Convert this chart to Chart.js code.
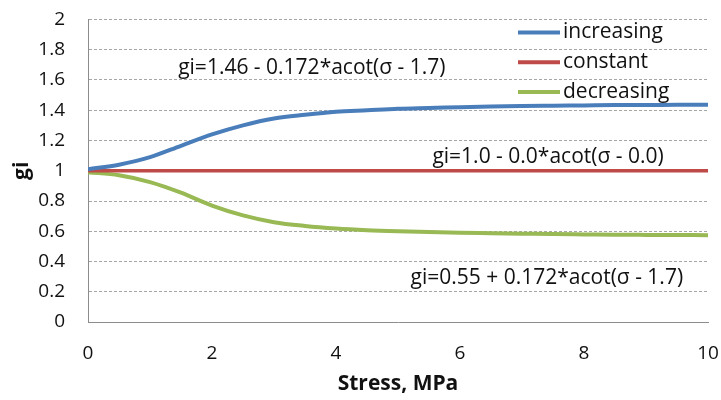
<!DOCTYPE html>
<html>
<head>
<meta charset="utf-8">
<script src="https://cdn.jsdelivr.net/npm/chart.js@4/dist/chart.umd.min.js"></script>
<style>
  html, body { margin: 0; padding: 0; background: #fff; }
  #wrap { width: 721px; height: 400px; }
</style>
</head>
<body>
<div id="wrap"><canvas id="c" width="721" height="400"></canvas></div>
<script>
// Stress values (MPa) at which gi was sampled
const stress = [0, 0.5, 1, 1.5, 2, 2.5, 3, 3.5, 4, 4.5, 5, 5.5, 6, 6.5, 7, 7.5, 8, 8.5, 9, 9.5, 10];

// gi for the three cases
const increasing = [1.01, 1.04, 1.09, 1.165, 1.24, 1.30, 1.345, 1.37, 1.39, 1.40, 1.41, 1.415, 1.42, 1.425, 1.428, 1.43, 1.432, 1.434, 1.435, 1.436, 1.437];
const constant   = [1, 1, 1, 1, 1, 1, 1, 1, 1, 1, 1, 1, 1, 1, 1, 1, 1, 1, 1, 1, 1];
const decreasing = [0.99, 0.97, 0.925, 0.855, 0.77, 0.705, 0.66, 0.635, 0.618, 0.607, 0.60, 0.595, 0.59, 0.587, 0.584, 0.581, 0.579, 0.577, 0.576, 0.575, 0.574];

const seriesNames  = ['increasing', 'constant', 'decreasing'];
const seriesColors = ['#4A7EBB', '#BE4B48', '#98B954'];

// Fitted equations written next to each curve: [text, stress, gi]
const equations = [
  ['gi=1.46 - 0.172*acot(\u03c3 - 1.7)', 3.61, 1.68],
  ['gi=1.0 - 0.0*acot(\u03c3 - 0.0)', 7.42, 1.093],
  ['gi=0.55 + 0.172*acot(\u03c3 - 1.7)', 7.40, 0.291]
];

const FONT = '"Open Sans", Lato, sans-serif';
const TEXT = '#111111';
const FS = 19;      // tick labels
const FS_TXT = 21;  // equations, legend and axis titles

const toPoints = ys => stress.map((x, i) => ({ x: x, y: ys[i] }));

const datasets = [increasing, constant, decreasing].map((ys, i) => ({
  label: seriesNames[i],
  data: toPoints(ys),
  borderColor: seriesColors[i],
  backgroundColor: seriesColors[i],
  borderWidth: i === 1 ? 3.5 : 4,
  pointRadius: 0,
  cubicInterpolationMode: 'monotone',
  fill: false
}));

// Equation labels and the in-plot legend
const overlay = {
  id: 'overlay',
  afterDatasetsDraw(chart) {
    const ctx = chart.ctx;
    const xs = chart.scales.x, ys = chart.scales.y;
    ctx.save();
    ctx.font = FS_TXT + 'px ' + FONT;
    ctx.fillStyle = TEXT;
    ctx.textBaseline = 'middle';
    ctx.textAlign = 'center';
    equations.forEach(([t, sx, gy]) => {
      ctx.fillText(t, xs.getPixelForValue(sx), ys.getPixelForValue(gy));
    });

    // legend rows
    const lx0 = 518, lx1 = 560, top = 32.5, step = 29.7;
    ctx.textAlign = 'left';
    seriesNames.forEach((name, i) => {
      const y = top + i * step;
      ctx.strokeStyle = seriesColors[i];
      ctx.lineWidth = 4;
      ctx.beginPath();
      ctx.moveTo(lx0, y);
      ctx.lineTo(lx1, y);
      ctx.stroke();
      ctx.fillStyle = TEXT;
      ctx.fillText(name, 563, y);
    });
    ctx.restore();
  }
};

new Chart(document.getElementById('c'), {
  type: 'line',
  data: { datasets: datasets },
  options: {
    responsive: false,
    animation: false,
    devicePixelRatio: 1,
    layout: { padding: { top: 19.5, right: 13, bottom: 0, left: 0 } },
    plugins: {
      legend: { display: false },
      tooltip: { enabled: false }
    },
    scales: {
      x: {
        type: 'linear',
        min: 0, max: 10,
        afterFit: s => { s.height = 78; s.paddingLeft = 0; s.paddingRight = 0; },
        ticks: {
          stepSize: 2,
          padding: 20,
          color: TEXT,
          font: { family: FONT, size: FS },
          maxRotation: 0
        },
        grid: { display: false, drawTicks: false },
        border: { display: true, color: '#8c8c8c', width: 1 },
        title: {
          display: true,
          text: 'Stress, MPa',
          color: TEXT,
          font: { family: FONT, size: FS_TXT, weight: 'bold' },
          padding: 3
        }
      },
      y: {
        min: 0, max: 2,
        afterFit: s => { s.width = 88; s.paddingTop = 0; s.paddingBottom = 0; },
        ticks: {
          stepSize: 0.2,
          padding: 23,
          color: TEXT,
          font: { family: FONT, size: FS },
          callback: v => String(+v.toFixed(1))
        },
        grid: { color: '#a6a6a6', lineWidth: 1, drawTicks: false },
        border: { display: true, color: '#8c8c8c', width: 1, dash: [3, 2] },
        title: {
          display: true,
          text: 'gi',
          color: TEXT,
          font: { family: FONT, size: FS_TXT, weight: 'bold' },
          padding: 9
        }
      }
    }
  },
  plugins: [overlay]
});
</script>
</body>
</html>
